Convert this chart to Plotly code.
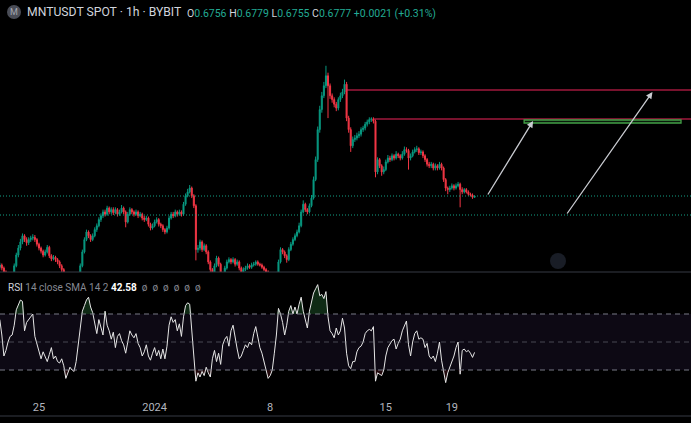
import plotly.graph_objects as go
import pandas as pd

# ---------------- data ----------------
bar_start = "2023-12-22 15:00"
bar_step = "3h"
first_open = 0.585

closes = [0.588,0.584,0.579,0.569,0.558,0.562,0.574,0.587,0.601,0.610,
0.618,0.626,0.621,0.617,0.621,0.623,0.624,0.621,0.615,0.610,
0.606,0.601,0.605,0.611,0.600,0.596,0.598,0.595,0.592,0.587,
0.582,0.576,0.566,0.558,0.553,0.556,0.550,0.558,0.571,0.587,
0.605,0.621,0.631,0.626,0.621,0.626,0.634,0.639,0.647,0.652,
0.657,0.654,0.662,0.657,0.660,0.656,0.660,0.654,0.657,0.662,
0.657,0.644,0.654,0.660,0.657,0.654,0.657,0.652,0.654,0.649,
0.647,0.649,0.641,0.636,0.639,0.644,0.647,0.641,0.639,0.634,
0.631,0.636,0.649,0.654,0.652,0.657,0.654,0.657,0.654,0.667,
0.678,0.683,0.688,0.678,0.665,0.608,0.610,0.618,0.608,0.613,
0.605,0.592,0.582,0.571,0.587,0.597,0.589,0.576,0.569,0.584,
0.592,0.595,0.592,0.595,0.589,0.592,0.584,0.579,0.582,0.584,
0.587,0.585,0.588,0.589,0.592,0.589,0.588,0.585,0.582,0.579,
0.571,0.563,0.569,0.574,0.576,0.592,0.608,0.605,0.600,0.595,
0.608,0.615,0.621,0.626,0.631,0.639,0.657,0.667,0.660,0.657,
0.665,0.675,0.699,0.725,0.764,0.790,0.808,0.821,0.834,0.821,
0.808,0.803,0.797,0.792,0.803,0.808,0.813,0.823,0.779,0.764,
0.743,0.751,0.753,0.756,0.758,0.764,0.766,0.771,0.774,0.777,
0.778,0.775,0.709,0.725,0.717,0.709,0.712,0.722,0.727,0.725,
0.730,0.727,0.732,0.730,0.727,0.732,0.738,0.737,0.727,0.730,
0.735,0.738,0.739,0.734,0.735,0.730,0.725,0.719,0.717,0.719,
0.714,0.717,0.714,0.719,0.714,0.699,0.688,0.686,0.688,0.691,
0.688,0.691,0.693,0.686,0.683,0.686,0.683,0.680,0.679,0.676,
0.6777]

highs = [0.591,0.590,0.586,0.581,0.571,0.565,0.577,0.590,0.604,0.614,
0.622,0.629,0.628,0.624,0.624,0.626,0.628,0.627,0.623,0.617,
0.612,0.608,0.608,0.614,0.613,0.602,0.601,0.600,0.597,0.594,
0.589,0.584,0.578,0.568,0.560,0.559,0.558,0.561,0.574,0.590,
0.608,0.624,0.634,0.633,0.628,0.629,0.637,0.642,0.650,0.655,
0.660,0.660,0.665,0.664,0.663,0.663,0.663,0.662,0.660,0.666,
0.664,0.659,0.657,0.663,0.662,0.659,0.660,0.659,0.657,0.656,
0.652,0.652,0.651,0.643,0.642,0.647,0.650,0.649,0.643,0.641,
0.636,0.639,0.652,0.657,0.657,0.660,0.659,0.660,0.659,0.670,
0.681,0.687,0.692,0.690,0.680,0.667,0.614,0.621,0.620,0.616,
0.615,0.607,0.594,0.584,0.590,0.600,0.599,0.591,0.578,0.587,
0.595,0.598,0.597,0.598,0.597,0.595,0.594,0.586,0.585,0.587,
0.590,0.589,0.591,0.592,0.594,0.594,0.591,0.590,0.587,0.584,
0.581,0.573,0.572,0.577,0.579,0.595,0.611,0.610,0.607,0.602,
0.611,0.618,0.624,0.629,0.634,0.643,0.660,0.672,0.669,0.662,
0.668,0.679,0.703,0.729,0.768,0.795,0.813,0.826,0.847,0.838,
0.824,0.811,0.806,0.800,0.806,0.812,0.817,0.829,0.826,0.782,
0.767,0.755,0.757,0.760,0.762,0.767,0.769,0.774,0.777,0.780,
0.780,0.780,0.777,0.728,0.727,0.719,0.716,0.725,0.731,0.730,
0.733,0.732,0.736,0.734,0.732,0.736,0.742,0.741,0.739,0.733,
0.738,0.741,0.743,0.741,0.738,0.737,0.732,0.727,0.722,0.722,
0.721,0.720,0.719,0.722,0.721,0.716,0.701,0.690,0.691,0.694,
0.693,0.694,0.696,0.695,0.689,0.688,0.688,0.685,0.682,0.681,
0.6779]

lows = [0.582,0.581,0.576,0.566,0.554,0.555,0.560,0.572,0.585,0.598,
0.607,0.615,0.618,0.613,0.614,0.618,0.620,0.618,0.612,0.607,
0.603,0.598,0.599,0.603,0.597,0.593,0.594,0.592,0.589,0.584,
0.579,0.573,0.563,0.555,0.550,0.550,0.546,0.548,0.556,0.569,
0.585,0.603,0.619,0.623,0.618,0.619,0.624,0.631,0.637,0.644,
0.649,0.651,0.652,0.654,0.654,0.653,0.654,0.651,0.652,0.655,
0.654,0.637,0.642,0.652,0.654,0.651,0.652,0.649,0.650,0.646,
0.644,0.645,0.638,0.633,0.634,0.637,0.642,0.638,0.636,0.631,
0.628,0.629,0.634,0.647,0.649,0.650,0.651,0.652,0.651,0.652,
0.665,0.676,0.681,0.675,0.662,0.594,0.604,0.607,0.605,0.606,
0.602,0.589,0.579,0.567,0.569,0.585,0.586,0.573,0.565,0.567,
0.582,0.590,0.589,0.590,0.586,0.587,0.581,0.576,0.577,0.580,
0.582,0.583,0.583,0.586,0.587,0.587,0.586,0.583,0.580,0.576,
0.568,0.560,0.561,0.567,0.572,0.574,0.590,0.602,0.597,0.591,
0.593,0.606,0.613,0.619,0.624,0.629,0.637,0.655,0.657,0.654,
0.655,0.663,0.673,0.697,0.722,0.760,0.786,0.805,0.818,0.779,
0.804,0.799,0.793,0.788,0.789,0.800,0.805,0.810,0.775,0.760,
0.735,0.740,0.748,0.750,0.753,0.755,0.761,0.763,0.768,0.771,
0.774,0.772,0.702,0.706,0.714,0.704,0.706,0.710,0.720,0.722,
0.723,0.724,0.725,0.727,0.724,0.725,0.730,0.734,0.712,0.724,
0.728,0.733,0.735,0.731,0.731,0.727,0.722,0.716,0.714,0.714,
0.711,0.711,0.711,0.712,0.711,0.696,0.684,0.680,0.683,0.686,
0.685,0.686,0.689,0.663,0.680,0.681,0.681,0.678,0.677,0.674,
0.6755]

rsi = [66,55,40,44,50,54,55,62,73,77,
80,79,58,64,66,68,70,54,48,42,
38,43,40,36,41,46,38,40,36,35,
38,33,24,28,32,30,29,36,48,56,
72,76,80,82,75,71,64,56,66,60,
55,72,62,58,52,57,46,54,56,51,
48,42,50,58,55,53,56,49,46,40,
43,48,40,37,42,46,40,44,38,45,
38,47,62,68,64,66,58,63,54,68,
76,78,77,55,40,22,28,25,29,26,
32,28,25,38,44,36,42,34,48,52,
54,47,58,62,52,45,38,40,44,48,
46,50,48,56,61,52,46,42,36,32,
24,26,30,42,55,74,70,64,55,62,
72,76,70,75,70,77,82,72,66,60,
72,78,85,88,91,83,84,81,86,68,
58,56,53,60,55,58,67,60,42,33,
31,36,36,43,46,47,50,56,58,59,
58,61,22,28,27,26,30,40,46,49,
51,52,45,49,52,58,62,65,48,40,
50,56,58,52,53,52,46,49,40,38,
40,36,42,50,37,28,21,28,32,36,
40,46,50,27,44,45,43,44,42,39,
42.58]

date_ticks = ["2023-12-25", "2024-01-01", "2024-01-08", "2024-01-15", "2024-01-19"]
date_labels = ["25", "2024", "8", "15", "19"]

view_start, view_end = "2023-12-22 15:20", "2024-02-02 11:30"
price_range = [0.5789, 0.9325]
rsi_range = [12.14, 99.29]
rsi_levels = [70, 50, 30]

# drawings
red_levels = [0.8155, 0.7778]
red_starts = ["2024-01-12 14:00", "2024-01-14 07:00"]
box_t = ["2024-01-23 09:00", "2024-02-01 21:00"]
box_p = [0.7726, 0.7765]
arrow_tails = [("2024-01-21 03:00", 0.6777), ("2024-01-25 22:00", 0.6530)]
arrow_heads = [("2024-01-23 22:00", 0.7752), ("2024-01-31 03:30", 0.8129)]
dotted_levels = [0.6777, 0.6530]

UP, DN = "#089981", "#f23645"
W, H = 691, 423

times = pd.date_range(bar_start, periods=len(closes), freq=bar_step)
opens = [first_open] + closes[:-1]

fig = go.Figure()
fig.add_trace(go.Candlestick(
    x=times, open=opens, high=highs, low=lows, close=closes,
    increasing=dict(line=dict(color=UP, width=1), fillcolor=UP),
    decreasing=dict(line=dict(color=DN, width=1), fillcolor=DN),
    whiskerwidth=0, xaxis="x", yaxis="y", showlegend=False, hoverinfo="skip"))

ob = [max(v, 70) for v in rsi]
os_ = [min(v, 30) for v in rsi]
fig.add_trace(go.Scatter(x=times, y=[70] * len(rsi), mode="lines", line=dict(width=0),
                         xaxis="x2", yaxis="y2", showlegend=False, hoverinfo="skip"))
fig.add_trace(go.Scatter(x=times, y=ob, mode="lines", line=dict(width=0), fill="tonexty",
                         fillcolor="rgba(40,110,55,0.38)",
                         xaxis="x2", yaxis="y2", showlegend=False, hoverinfo="skip"))
fig.add_trace(go.Scatter(x=times, y=[30] * len(rsi), mode="lines", line=dict(width=0),
                         xaxis="x2", yaxis="y2", showlegend=False, hoverinfo="skip"))
fig.add_trace(go.Scatter(x=times, y=os_, mode="lines", line=dict(width=0), fill="tonexty",
                         fillcolor="rgba(140,40,50,0.25)",
                         xaxis="x2", yaxis="y2", showlegend=False, hoverinfo="skip"))
fig.add_trace(go.Scatter(x=times, y=rsi, mode="lines", line=dict(color="#e6e6e6", width=1),
                         xaxis="x2", yaxis="y2", showlegend=False, hoverinfo="skip"))

def py(px):
    return 1 - px / H

shapes = []
# RSI band
shapes.append(dict(type="rect", xref="paper", yref="y2", x0=0, x1=1, y0=30, y1=70,
                   fillcolor="rgba(126,87,194,0.1)", line=dict(width=0), layer="below"))
for lv in rsi_levels:
    shapes.append(dict(type="line", xref="paper", yref="y2", x0=0, x1=1, y0=lv, y1=lv,
                       line=dict(color="#787b86" if lv != 50 else "rgba(120,123,134,0.55)",
                                 width=1, dash="5px,4px")))
# dotted price lines
for lv in dotted_levels:
    shapes.append(dict(type="line", xref="paper", yref="y", x0=0, x1=1, y0=lv, y1=lv,
                       line=dict(color="rgba(20,170,140,0.95)", width=1, dash="1px,2px")))
# red horizontal rays
for lv, st in zip(red_levels, red_starts):
    shapes.append(dict(type="line", xref="x", yref="y", x0=st, x1="2024-02-10", y0=lv, y1=lv,
                       line=dict(color="#f0245a", width=1.2)))
# green rectangle
shapes.append(dict(type="rect", xref="x", yref="y", x0=box_t[0], x1=box_t[1], y0=box_p[0], y1=box_p[1],
                   line=dict(color="#43a047", width=1.3), fillcolor="rgba(76,175,80,0.15)"))
# pane separators
shapes.append(dict(type="line", xref="paper", yref="paper", x0=0, x1=1, y0=py(272), y1=py(272),
                   line=dict(color="#363a45", width=1)))
shapes.append(dict(type="line", xref="paper", yref="paper", x0=0, x1=1, y0=py(416), y1=py(416),
                   line=dict(color="#363a45", width=1)))
# scroll button circle
shapes.append(dict(type="circle", xref="paper", yref="paper", x0=550 / W, x1=566 / W,
                   y0=py(269), y1=py(253), fillcolor="#191d26", line=dict(width=0)))
# symbol icon
shapes.append(dict(type="circle", xref="paper", yref="paper", x0=7 / W, x1=21 / W,
                   y0=py(19), y1=py(5), fillcolor="#4a4d57", line=dict(width=0)))

fig.update_layout(shapes=shapes)

for (tt, tp), (ht, hp) in zip(arrow_tails, arrow_heads):
    fig.add_annotation(x=ht, y=hp, ax=tt, ay=tp, xref="x", yref="y", axref="x", ayref="y",
                       text="", showarrow=True, arrowhead=2, arrowsize=1, arrowwidth=1.3,
                       arrowcolor="#c9cbd1")

FONT = "Roboto, Noto Sans, sans-serif"
fig.add_annotation(x=14 / W, y=py(12), xref="paper", yref="paper", text="M", showarrow=False,
                   font=dict(family=FONT, size=9, color="#a3a6af"), xanchor="center", yanchor="middle")
fig.add_annotation(x=25 / W, y=py(12), xref="paper", yref="paper",
                   text="MNTUSDT SPOT · 1h · BYBIT", showarrow=False,
                   font=dict(family=FONT, size=12.2, color="#d1d4dc"), xanchor="left", yanchor="middle")
lab = "<span style='color:#d1d4dc'>%s</span>"
ohlc = (lab % "O" + "0.6756 " + lab % "H" + "0.6779 " + lab % "L" + "0.6755 " +
        lab % "C" + "0.6777 +0.0021 (+0.31%)")
fig.add_annotation(x=185 / W, y=py(13), xref="paper", yref="paper", text=ohlc, showarrow=False,
                   font=dict(family=FONT, size=10.5, color="#22ab94"), xanchor="left", yanchor="middle")
rsi_leg = ("<span style='color:#d1d4dc'>RSI</span> 14 close SMA 14 2 "
           "<b><span style='color:#ffffff'>42.58</span></b>&nbsp; "
           "ø&nbsp; ø&nbsp; ø&nbsp; ø&nbsp; ø&nbsp; ø")
fig.add_annotation(x=6 / W, y=py(287), xref="paper", yref="paper", text=rsi_leg, showarrow=False,
                   font=dict(family=FONT, size=10, color="#868993"), xanchor="left", yanchor="middle")

fig.update_layout(
    width=W, height=H, margin=dict(l=0, r=0, t=0, b=0),
    paper_bgcolor="#000000", plot_bgcolor="rgba(0,0,0,0)",
    xaxis=dict(domain=[0, 1], range=[view_start, view_end], type="date", anchor="y",
               showticklabels=False, showgrid=False, zeroline=False, rangeslider=dict(visible=False),
               showline=False),
    xaxis2=dict(domain=[0, 1], range=[view_start, view_end], type="date", anchor="y2", matches="x",
                tickvals=date_ticks, ticktext=date_labels, ticks="", showgrid=False, zeroline=False,
                ticklabelstandoff=4,
                tickfont=dict(family=FONT, size=11, color="#b2b5be"), showline=False),
    yaxis=dict(domain=[py(272), 1], range=price_range, visible=False, showgrid=False),
    yaxis2=dict(domain=[py(395), py(273)], range=rsi_range, visible=False, showgrid=False),
    hovermode=False,
)

fig.write_html("out.html")
